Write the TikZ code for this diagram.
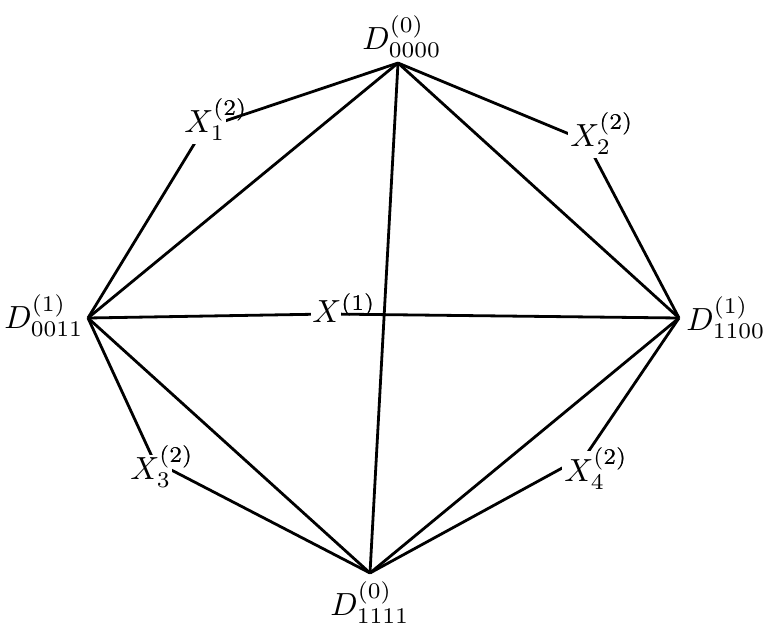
\documentclass[tikz,border=0pt]{standalone}
\usetikzlibrary{calc}
\begin{document}
\begin{tikzpicture}[x=0.5pt,y=-0.5pt,
  edge/.style={line width=1.4pt},
  lbl/.style={inner sep=0pt,scale=1.6},
  mask/.style={fill=white}]
\useasboundingbox (0,0) rectangle (780,636);
% vertex points
\coordinate (d0) at (398,63);
\coordinate (d1) at (88,318);
\coordinate (d2) at (679,318);
\coordinate (d3) at (370,573);
% meeting points of the X nodes
\coordinate (p1) at (204,128);
\coordinate (p2) at (586,141);
\coordinate (p3) at (154,461);
\coordinate (p4) at (586,455);
\coordinate (pc) at (329,314);
% edges
\draw[edge] (d0) -- (d1);
\draw[edge] (d0) -- (d2);
\draw[edge] (d0) -- (d3);
\draw[edge] (d1) -- (d3);
\draw[edge] (d2) -- (d3);
\draw[edge] (d1) -- (pc) -- (d2);
\draw[edge] (d1) -- (p1) -- (d0);
\draw[edge] (d0) -- (p2) -- (d2);
\draw[edge] (d1) -- (p3) -- (d3);
\draw[edge] (d3) -- (p4) -- (d2);
% vertex labels
\node[lbl] (ld0) at (402,37) {$D^{(0)}_{0000}$};
\node[lbl] (ld1) at (44,316) {$D^{(1)}_{0011}$};
\node[lbl] (ld2) at (726,318) {$D^{(1)}_{1100}$};
\node[lbl] (ld3) at (370,603) {$D^{(0)}_{1111}$};
% X labels: white box behind the letter X and its subscript
\node[lbl] (x1) at (216,120) {$X^{(2)}_{1}$};
\node[lbl] (x2) at (602,134) {$X^{(2)}_{2}$};
\node[lbl] (x3) at (162,467) {$X^{(2)}_{3}$};
\node[lbl] (x4) at (596,469) {$X^{(2)}_{4}$};
\node[lbl] (xc) at (344,308) {$X^{(1)}$};
\foreach \n in {x1,x2,x3}{
  \fill[mask] ($(\n.base west)+(-2,12)$) rectangle ++(44,-36);
}
\fill[mask] ($(x4.base west)+(-2,12)$) rectangle ++(44,-42);
\fill[mask] ($(xc.base west)+(-1,3)$) rectangle ++(30,-27);
\node[lbl] at (216,120) {$X^{(2)}_{1}$};
\node[lbl] at (602,134) {$X^{(2)}_{2}$};
\node[lbl] at (162,467) {$X^{(2)}_{3}$};
\node[lbl] at (596,469) {$X^{(2)}_{4}$};
\node[lbl] at (344,308) {$X^{(1)}$};
\end{tikzpicture}
\end{document}
